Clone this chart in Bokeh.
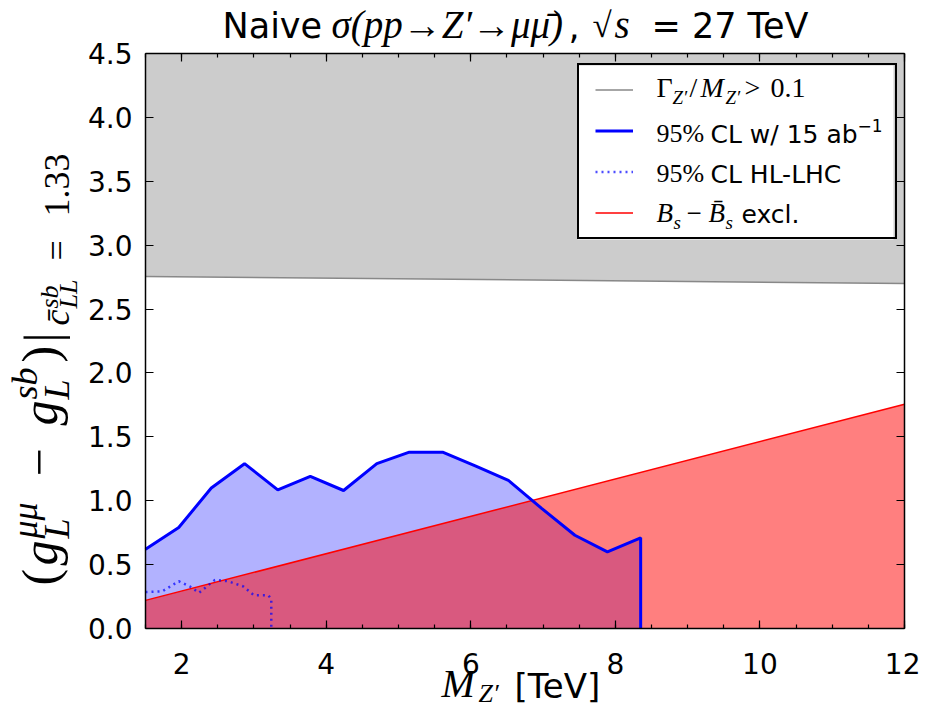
import math
from bokeh.plotting import figure
from bokeh.models import (Range1d, LinearAxis, Label, Legend, LegendItem, FixedTicker,
                          PrintfTickFormatter, BoxAnnotation)
from bokeh.embed import file_html
from bokeh.resources import INLINE

# ---------------- data ----------------
# width constraint Gamma/M > 0.1 (lower edge of excluded grey band)
gray_m = [1.5, 12.0]
gray_g = [2.755, 2.70]
gray_top = [4.5, 4.5]

# 95% CL w/ 15 ab^-1
blue_m = [1.5, 1.96, 2.41, 2.87, 3.33, 3.78, 4.24, 4.70, 5.15, 5.61, 6.07, 6.52, 6.98, 7.44, 7.89, 8.35, 8.35]
blue_g = [0.62, 0.79, 1.10, 1.29, 1.085, 1.19, 1.08, 1.29, 1.38, 1.38, 1.27, 1.16, 0.94, 0.73, 0.60, 0.71, 0.0]

# 95% CL HL-LHC
hl_m = [1.5, 1.73, 1.96, 2.11, 2.24, 2.46, 2.64, 2.85, 3.0, 3.2, 3.24, 3.24]
hl_g = [0.285, 0.29, 0.37, 0.33, 0.28, 0.38, 0.37, 0.33, 0.26, 0.26, 0.23, 0.0]

# Bs - Bsbar exclusion
red_m = [1.5, 12.0]
red_g = [0.22, 1.755]

x_lim = (1.5, 12.0)
y_lim = (0.0, 4.5)
x_major = [2, 4, 6, 8, 10, 12]
x_minor = [1.5 + 0.5 * i for i in range(22)]
y_major = [0.5 * i for i in range(10)]

# ---------------- layout (pixels) ----------------
W, H = 920, 709                      # canvas
FL, FR, FT, FB = 145, 904, 53, 628   # plotting box inside the canvas
kx = (FR - FL) / (x_lim[1] - x_lim[0])
ky = (FB - FT) / (y_lim[1] - y_lim[0])
X0 = x_lim[0] - FL / kx
Y0 = y_lim[0] - (H - FB) / ky

p = figure(frame_width=W, frame_height=H,
           x_range=Range1d(X0, X0 + W / kx), y_range=Range1d(Y0, Y0 + H / ky),
           x_axis_location=None, y_axis_location=None,
           output_backend="svg", toolbar_location=None, min_border=0)
p.xgrid.visible = False
p.ygrid.visible = False
p.outline_line_color = None
p.background_fill_color = "white"
p.border_fill_color = "white"

xt = FixedTicker(ticks=x_major, minor_ticks=x_minor)
yt = FixedTicker(ticks=y_major, minor_ticks=[])

def make_axis(ticker, loc, bounds, labels):
    ax = LinearAxis(ticker=ticker, fixed_location=loc, bounds=bounds)
    ax.axis_line_color = "black"
    ax.axis_line_width = 1.5
    ax.major_tick_in = 8
    ax.major_tick_out = 0
    ax.minor_tick_in = 4
    ax.minor_tick_out = 0
    ax.major_tick_line_color = "black"
    ax.minor_tick_line_color = "black"
    ax.major_tick_line_width = 1.2
    ax.minor_tick_line_width = 1.2
    if labels:
        ax.major_label_text_font = "DejaVu Sans"
        ax.major_label_text_font_size = "28px"
        ax.major_label_text_color = "black"
    else:
        ax.major_label_text_font_size = "1px"
        ax.major_label_text_color = None
        ax.major_label_standoff = 0
    return ax

ax_b = make_axis(xt, y_lim[0], x_lim, True)
ax_b.major_label_standoff = 24
ax_t = make_axis(xt, y_lim[1], x_lim, False)
ax_l = make_axis(yt, x_lim[0], y_lim, True)
ax_l.major_label_standoff = 13
ax_l.formatter = PrintfTickFormatter(format="%.1f")
ax_r = make_axis(yt, x_lim[1], y_lim, False)
p.add_layout(ax_b, "below")
p.add_layout(ax_t, "above")
p.add_layout(ax_l, "left")
p.add_layout(ax_r, "right")

# ---------------- glyphs ----------------
p.varea(x=gray_m, y1=gray_g, y2=gray_top, fill_color="#cccccc")
p.varea(x=blue_m, y1=0, y2=blue_g, fill_color="blue", fill_alpha=0.3)
p.varea(x=red_m, y1=0, y2=red_g, fill_color="red", fill_alpha=0.5)
gray_line = p.line(gray_m, gray_g, line_color="#888888", line_width=1.5)
red_line = p.line(red_m, red_g, line_color="red", line_width=1.5)
blue_line = p.line(blue_m, blue_g, line_color="blue", line_width=3)
hl_line = p.line(hl_m, hl_g, line_color="blue", line_alpha=0.7, line_width=2.5, line_dash="2 4")

# legend: white box behind a transparent legend, texts on top
LG_L, LG_R, LG_T, LG_B = 577, 893, 65, 239
p.add_layout(BoxAnnotation(left=LG_L, right=LG_R, top=H - LG_T, bottom=H - LG_B,
                           left_units="screen", right_units="screen",
                           top_units="screen", bottom_units="screen",
                           fill_color="white", fill_alpha=1.0, line_color=None,
                           level="annotation", editable=False))
legend = Legend(items=[LegendItem(label=" ", renderers=[gray_line]),
                       LegendItem(label=" ", renderers=[blue_line]),
                       LegendItem(label=" ", renderers=[hl_line]),
                       LegendItem(label=" ", renderers=[red_line])],
                location=(LG_L, H - LG_B), padding=16, spacing=24,
                glyph_width=38, glyph_height=17, label_width=221, label_height=17,
                label_standoff=25, label_text_font_size="10px", margin=0,
                border_line_color="black", border_line_width=2, border_line_alpha=1.0,
                background_fill_alpha=0.0)
p.add_layout(legend)

# ---------------- texts ----------------
SANS = "DejaVu Sans"
SERIF = "Liberation Serif"

def put(text, px, py, size, font=SANS, style="normal", angle=0.0):
    """px, py: canvas pixel position of the text start on its baseline."""
    c = 0.34 * size   # baseline -> vertical middle of the text box
    if angle:
        x, y = px - c, H - py
    else:
        x, y = px, H - (py - c)
    p.add_layout(Label(x=x, y=y, x_units="screen", y_units="screen",
                       text=text, text_font=font, text_font_size=f"{size}px",
                       text_font_style=style, text_color="black", level="overlay",
                       text_align="left", text_baseline="middle", angle=angle))

# title
TB = 37
put("Naive", 222, TB, 35)
put("σ(pp→Z′→μμ̄)", 331, TB, 39, SERIF, "italic")
put(",", 568, TB, 35)
put("√", 592, TB, 35, SERIF)
put("s", 614, TB, 39, SERIF, "italic")
put("= 27 TeV", 651, TB, 35)

# x label
put("M", 441, 697, 40, SERIF, "italic")
put("Z′", 478, 702, 26, SERIF, "italic")
put("[TeV]", 514, 697, 34)

# y label (rotated, reading bottom to top)
A = math.pi / 2
BX = 56          # main baseline
M_, S_, SS_ = 50, 36, 26
put("(", BX, 585, M_, SERIF, angle=A)
put("g", BX, 565, M_, SERIF, "italic", angle=A)
put("μμ", BX - 19, 538, S_, SERIF, "italic", angle=A)
put("L", BX + 13, 538, S_, SERIF, "italic", angle=A)
put("−", BX, 476, M_, SERIF, angle=A)
put("g", BX, 425, M_, SERIF, "italic", angle=A)
put("sb", BX - 19, 399, S_, SERIF, "italic", angle=A)
put("L", BX + 13, 399, S_, SERIF, "italic", angle=A)
put(")", BX, 362, M_, SERIF, angle=A)
put("|", BX + 2, 342, M_, SERIF, angle=A)
put("c̄", BX + 13, 325, S_, SERIF, "italic", angle=A)
put("sb", BX + 2, 308, SS_, SERIF, "italic", angle=A)
put("LL", BX + 21, 308, SS_, SERIF, "italic", angle=A)
put("=", BX + 13, 260, S_, SERIF, angle=A)
put("1.33", BX + 13, 216, S_, SERIF, angle=A)

# legend texts
put("Γ", 656, 97, 28, SERIF)
put("Z′", 672, 103, 19, SERIF, "italic")
put("/", 689, 97, 28, SERIF)
put("M", 700, 97, 28, SERIF, "italic")
put("Z′", 725, 103, 19, SERIF, "italic")
put(">", 744, 97, 28, SERIF)
put("0.1", 770, 97, 28, SERIF)

put("95%", 656, 142, 26, SERIF)
put("CL w/ 15 ab", 710, 142, 25)
put("−1", 857, 131, 17)

put("95%", 656, 182, 26, SERIF)
put("CL HL-LHC", 710, 182, 25)

put("B", 656, 222, 27, SERIF, "italic")
put("s", 673, 228, 19, SERIF, "italic")
put("−", 686, 222, 27, SERIF)
put("B̄", 708, 222, 27, SERIF, "italic")
put("s", 725, 228, 19, SERIF, "italic")
put("excl.", 741, 222, 25)

open("out.html", "w").write(file_html(p, INLINE))
